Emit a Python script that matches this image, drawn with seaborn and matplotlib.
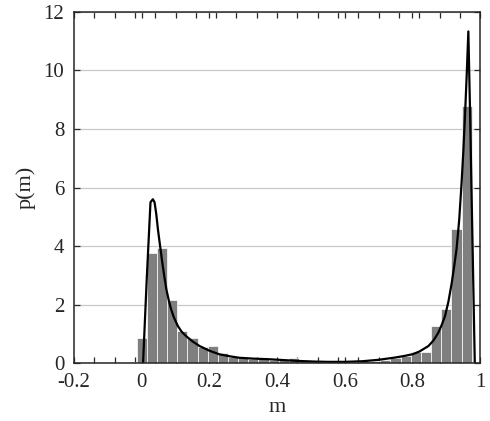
import numpy as np
import pandas as pd
import matplotlib
matplotlib.use('Agg')
import matplotlib.pyplot as plt
import seaborn as sns

# Histogram bins (centers, width 0.03) and heights
bin_centers = [-0.03, 0.00, 0.03, 0.06, 0.09, 0.12, 0.15, 0.18, 0.21, 0.24, 0.27,
               0.30, 0.33, 0.36, 0.39, 0.42, 0.45, 0.48, 0.51, 0.54, 0.57, 0.60,
               0.63, 0.66, 0.69, 0.72, 0.75, 0.78, 0.81, 0.84, 0.87, 0.90, 0.93, 0.96]
bin_heights = [0.04, 0.85, 3.75, 3.92, 2.15, 1.12, 0.87, 0.56, 0.58, 0.36, 0.22,
               0.19, 0.15, 0.15, 0.10, 0.12, 0.17, 0.10, 0.08, 0.06, 0.05, 0.05,
               0.05, 0.07, 0.09, 0.12, 0.17, 0.25, 0.37, 0.40, 1.27, 1.87, 4.60, 8.80]

# Smooth curve p(m)
curve_m = [0.004, 0.015, 0.026, 0.033, 0.038, 0.043, 0.048, 0.055, 0.061, 0.067,
           0.073, 0.080, 0.087, 0.095, 0.107, 0.118, 0.131, 0.150, 0.171, 0.200,
           0.229, 0.260, 0.288, 0.330, 0.376, 0.420, 0.465, 0.510, 0.550, 0.600,
           0.650, 0.700, 0.725, 0.750, 0.775, 0.800, 0.820, 0.847, 0.862, 0.876,
           0.886, 0.896, 0.906, 0.916, 0.923, 0.930, 0.938, 0.945, 0.950, 0.955,
           0.960, 0.965, 0.970, 0.975, 0.984]
curve_p = [0.0, 2.9, 5.5, 5.6, 5.5, 5.1, 4.57, 3.95, 3.43, 2.95,
           2.52, 2.15, 1.84, 1.57, 1.27, 1.08, 0.93, 0.75, 0.59, 0.43,
           0.31, 0.24, 0.19, 0.16, 0.14, 0.11, 0.08, 0.06, 0.05, 0.05,
           0.07, 0.12, 0.16, 0.20, 0.25, 0.31, 0.40, 0.59, 0.78, 1.04,
           1.30, 1.61, 2.10, 2.75, 3.30, 3.89, 4.90, 6.16, 7.20, 8.43,
           9.80, 11.33, 8.60, 5.50, 0.0]

hist_df = pd.DataFrame({'m': bin_centers, 'p': bin_heights})
curve_df = pd.DataFrame({'m': curve_m, 'p': curve_p})

sns.set_style('ticks')
plt.rcParams['font.family'] = ['Liberation Serif', 'DejaVu Serif']

fig = plt.figure(figsize=(4.9, 4.21), dpi=100)
ax = fig.add_axes([0.151, 0.137, 0.829, 0.835])

sns.histplot(data=hist_df, x='m', weights='p', binwidth=0.03,
             binrange=(-0.045, 0.975), stat='count',
             color='#7f7f7f', alpha=1, edgecolor='white', linewidth=0.5, ax=ax)
sns.lineplot(data=curve_df, x='m', y='p', color='black', linewidth=1.6, ax=ax)

ax.set_xlim(-0.2, 1.0)
ax.set_ylim(0, 12)
ax.set_xticks(np.arange(-0.2, 1.01, 0.2))
ax.set_xticklabels(['-0.2', '0', '0.2', '0.4', '0.6', '0.8', '1'])
ax.set_xticks(np.arange(-0.14, 1.0, 0.06), minor=True)
ax.set_yticks(np.arange(0, 13, 2))
ax.yaxis.grid(True, color='#c8c8c8', linewidth=0.9)
ax.set_axisbelow(True)

ax.tick_params(axis='both', which='both', direction='in', top=True, right=True,
               length=4, width=0.9, labelsize=15, pad=7)
for s in ax.spines.values():
    s.set_linewidth(1.1)

ax.set_xlabel('m', fontsize=16, labelpad=4)
ax.set_ylabel('p(m)', fontsize=16, labelpad=6)

fig.savefig('out.png', dpi=100)
